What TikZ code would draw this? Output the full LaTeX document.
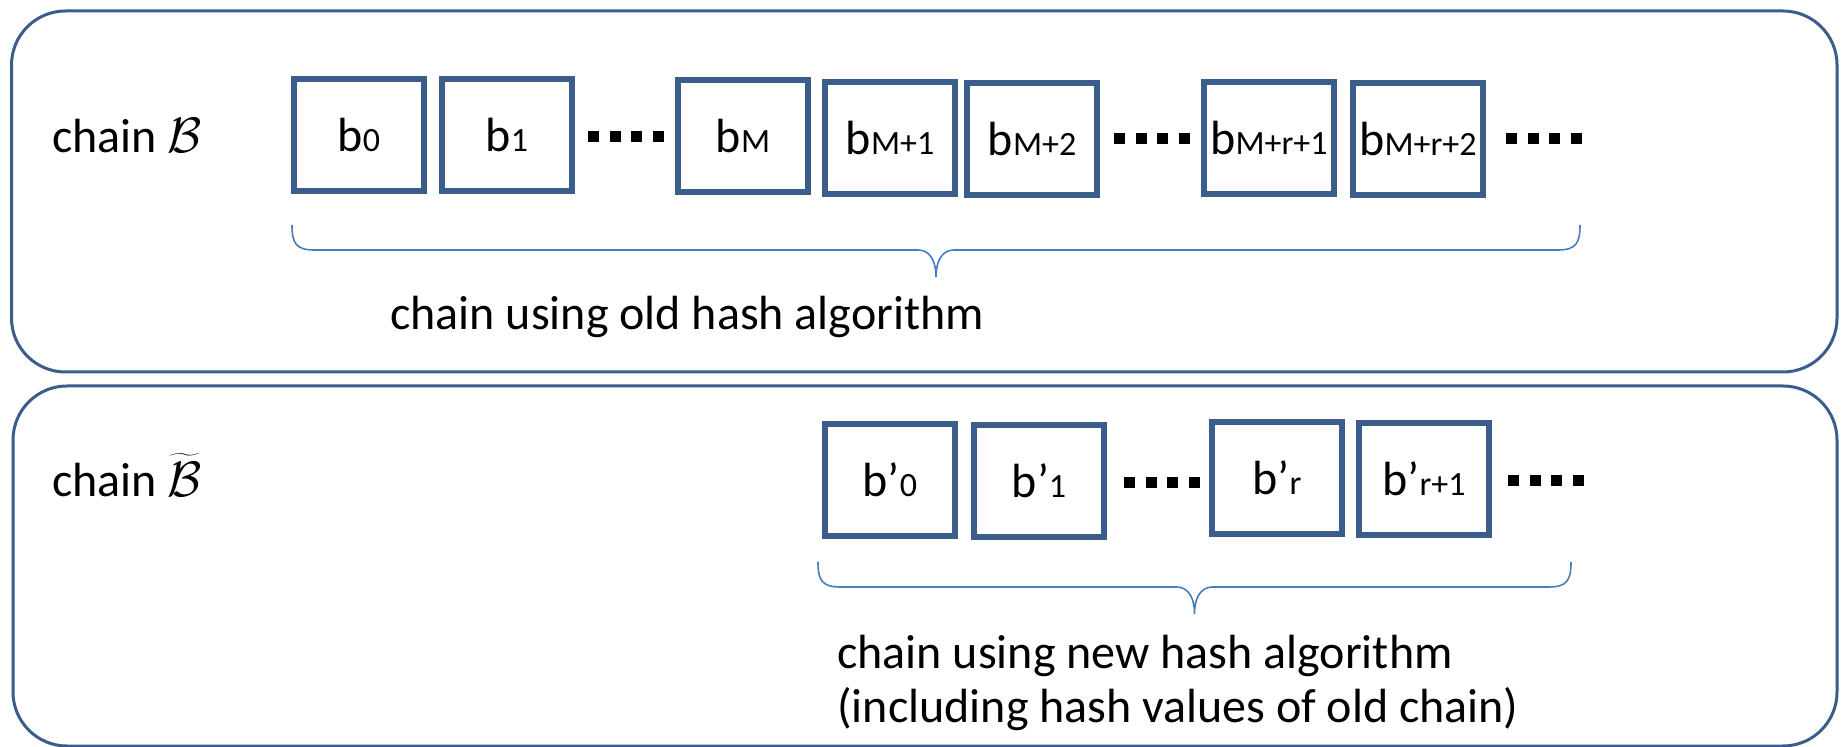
\documentclass[tikz,border=0pt]{standalone}
\usepackage{fontspec}
\setmainfont{Carlito}

\definecolor{boxblue}{RGB}{58,93,140}
\definecolor{braceblue}{RGB}{74,126,187}

\tikzset{
panel/.style={draw=boxblue, line width=1.5pt, rounded corners=27pt},
blockbox/.style={draw=boxblue, line width=2.6pt, minimum width=65pt, minimum height=56pt, inner sep=0pt, font=\fontsize{24}{28}\selectfont},
chaintext/.style={inner sep=0pt, anchor=base west, font=\fontsize{24}{27.5}\selectfont},
chainbrace/.style={draw=braceblue, line width=0.8pt}
}

\newcommand{\blkidx}[1]{{\fontsize{17}{20}\selectfont #1}}
\newcommand{\drawblock}[4]{%
\node[blockbox] (#3) at (#1,#2) {#4};
}
\newcommand{\drawdots}[2]{%
\foreach \k in {0,...,3}
  \fill (#1+\k*21.5,#2) rectangle ++(11,11);
}
% brace from x=#1 to x=#2, hanging down from y=#3
\newcommand{\drawbrace}[3]{%
\draw[chainbrace] (#1,#3) .. controls (#1,#3+18) and (#1+4,#3+25) .. (#1+22,#3+25)
  -- ({(#1+#2)/2-18},#3+25) .. controls ({(#1+#2)/2-6},#3+25) and ({(#1+#2)/2},#3+36) .. ({(#1+#2)/2},#3+52)
  .. controls ({(#1+#2)/2},#3+36) and ({(#1+#2)/2+6},#3+25) .. ({(#1+#2)/2+18},#3+25)
  -- (#2-22,#3+25) .. controls (#2-4,#3+25) and (#2,#3+18) .. (#2,#3);
}

\begin{document}
\begin{tikzpicture}[x=0.5pt, y=-0.5pt]

\useasboundingbox (0,0) rectangle (1841,747);

\draw[panel] (11.5,11) rectangle (1837,372);
\draw[panel] (13,386) rectangle (1837,746);


% old chain
\node[chaintext] (chainB) at (52,153) {chain $\mathcal{B}$};

\drawblock{359}{135}{b0}{b\blkidx{0}}
\drawblock{507}{135}{b1}{b\blkidx{1}}
\drawdots{588}{131}
\drawblock{743}{136}{bM}{b\blkidx{M}}
\drawblock{890}{138}{bM1}{b\blkidx{M+1}}
\drawblock{1032}{139}{bM2}{b\blkidx{M+2}}
\drawdots{1114}{133}
\drawblock{1269}{138}{bMr1}{b\blkidx{M+r+1}}
\drawblock{1418}{139}{bMr2}{b\blkidx{M+r+2}}
\drawdots{1506}{133}

\drawbrace{292}{1580}{225}

\node[chaintext] (oldtext) at (390,330) {chain using old hash algorithm};


% new chain
\node[chaintext] (chainBt) at (52,497) {chain $\widetilde{\mathcal{B}\mathstrut}$};

\drawblock{890}{480}{c0}{b’\blkidx{0}}
\drawblock{1039}{481}{c1}{b’\blkidx{1}}
\drawdots{1124}{477}
\drawblock{1277}{478}{cr}{b’\blkidx{r}}
\drawblock{1424}{479}{cr1}{b’\blkidx{r+1}}
\drawdots{1508}{475}

\drawbrace{818}{1571}{562}

\node[chaintext, align=left] (newtext) at (837,723) {chain using new hash algorithm\\(including hash values of old chain)};

\end{tikzpicture}
\end{document}
